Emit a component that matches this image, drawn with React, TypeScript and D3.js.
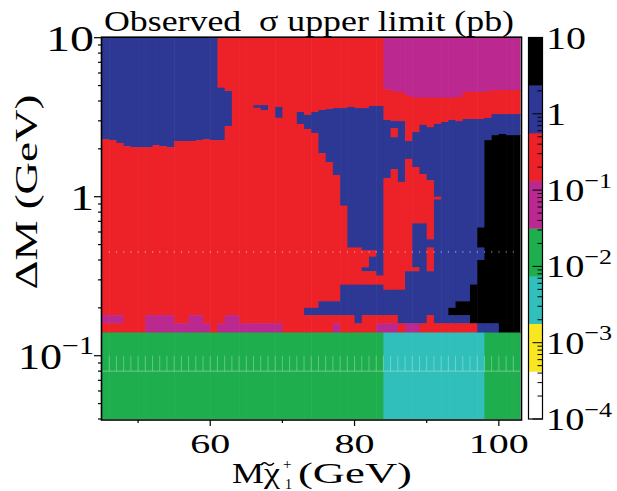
import React from 'react';
import * as d3 from 'd3';

const W = 617;
const H = 491;

// chargino mass bins (lower edges, GeV), each 1 GeV wide
const massBins = [45, 46, 47, 48, 49, 50, 51, 52, 53, 54, 55, 56, 57, 58, 59, 60, 61, 62, 63, 64, 65, 66, 67, 68, 69, 70, 71, 72, 73, 74, 75, 76, 77, 78, 79, 80, 81, 82, 83, 84, 85, 86, 87, 88, 89, 90, 91, 92, 93, 94, 95, 96, 97, 98, 99, 100, 101, 102];
const massWidth = 1;
const massDomain = [45, 103];
const dmDomain = [0.04, 10];

// limit levels: code -> representative sigma (pb)
const levelCodes = ['W', 'Y', 'C', 'G', 'M', 'R', 'B', 'K'];
const levelSigma = [0.0002, 0.0011, 0.004, 0.018, 0.075, 0.3, 1.2, 5];
const colorEdges = [0.000422, 0.00178, 0.0075, 0.0316, 0.1334, 0.562, 2.371];
const levelColors = ['#ffffff', '#f7e620', '#30bfba', '#1fae4d', '#bb2990', '#ed2228', '#2d3794', '#000000'];

// each column (one mass bin): level code followed by the lower Delta-M edge of that run, from top (10 GeV) down
const columns = [
  'B2.30 R0.18 M0.16 R0.14 G',
  'B2.27 R0.18 M0.16 R0.14 G',
  'B2.18 R0.18 M0.16 R0.14 G',
  'B2.08 R0.14 G',
  'B2.05 R0.14 G',
  'B2.05 R0.14 G',
  'B2.05 R0.18 M0.14 G',
  'B2.11 R0.18 M0.14 G',
  'B2.08 R0.18 M0.14 G',
  'B2.05 R0.18 M0.14 G',
  'B2.24 R0.16 M0.14 G',
  'B2.24 R0.16 M0.14 G',
  'B2.24 R0.18 M0.14 G',
  'B2.27 R0.18 M0.14 G',
  'B2.30 R0.16 M0.14 G',
  'B2.27 R0.14 G',
  'R4.85 B2.27 R0.16 M0.14 G',
  'R4.62 B2.78 R0.18 M0.14 G',
  'R0.18 M0.14 G',
  'R0.16 M0.14 G',
  'R0.16 M0.14 G',
  'R3.77 B3.63 R0.16 M0.14 G',
  'R3.77 B3.51 R0.16 M0.14 G',
  'R0.16 M0.14 G',
  'R3.67 B3.14 R0.16 M0.14 G',
  'R0.14 G',
  'R0.14 G',
  'R3.41 B2.87 R0.14 G',
  'R3.27 B2.67 R0.20 B0.18 R0.14 G',
  'R3.41 B2.52 R0.20 B0.18 R0.14 G',
  'R3.51 B1.88 R0.22 B0.18 R0.14 G',
  'R3.56 B1.65 R0.22 B0.18 R0.14 G',
  'R3.61 B1.37 R0.22 B0.18 R0.16 M0.14 G',
  'R3.61 B0.88 R0.28 B0.18 R0.14 G',
  'R3.67 B0.48 R0.28 B0.18 R0.14 G',
  'R3.61 B0.48 R0.28 B0.16 R0.14 G',
  'R3.61 B0.46 R0.36 B0.34 R0.28 B0.18 R0.14 G',
  'R3.72 B0.46 R0.42 B0.34 R0.28 B0.18 R0.14 G',
  'R3.72 B0.32 R0.28 B0.18 R0.16 M0.14 G',
  'M4.74 R3.04 B1.31 R0.26 B0.18 R0.16 M0.14 C',
  'M4.60 R2.99 B2.70 R2.37 B1.49 R0.26 B0.18 R0.16 M0.14 C',
  'M4.56 R2.99 B1.24 R0.26 B0.16 R0.14 C',
  'M4.30 R2.24 B1.73 R0.34 B0.16 M0.14 C',
  'M4.20 R2.55 B1.54 R0.68 B0.36 R0.34 B0.16 M0.14 C',
  'M4.20 R2.83 B1.39 R0.68 B0.16 R0.14 C',
  'M4.20 R2.74 B1.27 R0.54 B0.48 R0.34 B0.18 R0.14 C',
  'M4.20 R2.87 B1.00 R0.96 B0.16 R0.14 C',
  'M4.20 R2.95 B0.16 R0.14 C',
  'M4.20 R3.04 B0.20 K0.18 B0.16 R0.14 C',
  'M4.24 R2.99 B0.22 K0.18 B0.16 R0.14 C',
  'M4.56 R3.08 B0.22 K0.18 B0.16 R0.14 C',
  'M4.56 R3.08 B0.28 K0.16 R0.14 C',
  'M4.56 R3.08 B0.64 K0.48 B0.40 K0.16 B0.14 C',
  'M4.60 R3.13 B2.27 K0.16 B0.14 G',
  'M4.69 R3.31 B2.44 K0.16 B0.14 G',
  'M4.69 R3.31 B2.48 K0.14 G',
  'M4.69 R3.31 B2.44 K0.14 G',
  'M4.69 R3.31 B2.44 K0.14 G',
];

// faint guide marks seen in the original
const dottedGuideDM = 0.45;
const lowGuideDM = 0.08;
const lowGuideTopDM = 0.1;

const xTickValues = [50, 60, 70, 80, 90, 100];
const xTickLabels = ['', '60', '', '80', '', '100'];
const yTickLabelValues = [0.1, 1, 10];
const yTickLabels = ['10^-1', '1', '10'];
const cbTickLabelValues = [1e-4, 1e-3, 1e-2, 1e-1, 1, 10];
const cbTickLabels = ['10^-4', '10^-3', '10^-2', '10^-1', '1', '10'];

const title = 'Observed  \u03c3 upper limit (pb)';
const FONT = '"Liberation Serif", "Times New Roman", serif';

function Label({ x, y, text, size, anchor, len }: { x: number; y: number; text: string; size: number; anchor: string; len: number }) {
  const [base, exp] = text.split('^');
  return (
    <text x={x} y={y} fontSize={size} textAnchor={anchor} fontFamily={FONT} textLength={len} lengthAdjust="spacingAndGlyphs">
      {base}
      {exp !== undefined && (
        <tspan fontSize={size * 0.68} dy={-size * 0.42}>{exp.replace('-', '\u2212')}</tspan>
      )}
    </text>
  );
}

export default function App() {
  const x = d3.scaleLinear().domain(massDomain).range([102, 520.5]);
  const y = d3.scaleLog().domain(dmDomain).range([419, 37.7]);
  const color = d3.scaleThreshold<number, string>().domain(colorEdges).range(levelColors);
  const cb = d3.scaleLog().domain([1e-4, 10]).range([419, 37.5]);

  const cells = columns.flatMap((s, i) => {
    const m0 = massBins[i];
    let top = dmDomain[1];
    return s.split(' ').map((tok) => {
      const code = tok[0];
      const low = tok.length > 1 ? +tok.slice(1) : dmDomain[0];
      const c = { m0, top, low, sigma: levelSigma[levelCodes.indexOf(code)] };
      top = low;
      return c;
    });
  });

  const isMajor = (t: number) => Math.abs(Math.log10(t) - Math.round(Math.log10(t))) < 1e-6;
  const yTicks = y.ticks();
  const cbTicks = cb.ticks();
  const cbBandEdges = [1e-4, ...colorEdges, 10];

  const [x0, x1] = x.range();
  const [yb, yt] = y.range();

  return (
    <svg width={W} height={H} style={{ position: 'absolute', left: 0, top: 0, background: '#fff' }}>
      <defs>
        <clipPath id="plotclip">
          <rect x={x0} y={yt} width={x1 - x0} height={yb - yt} />
        </clipPath>
      </defs>
      <g clipPath="url(#plotclip)">
        {cells.map((c, i) => (
          <rect
            key={i}
            x={x(c.m0)}
            y={y(c.top)}
            width={x(c.m0 + massWidth) - x(c.m0) + 0.6}
            height={y(c.low) - y(c.top) + 0.6}
            fill={color(c.sigma)}
          />
        ))}
        {massBins.slice(1).map((m) => (
          <rect key={'d' + m} x={x(m) - 0.5} y={y(dottedGuideDM) - 1} width={1.2} height={2} fill="#fff" opacity={0.35} />
        ))}
        <line x1={x0} x2={x1} y1={y(lowGuideDM)} y2={y(lowGuideDM)} stroke="#fff" strokeOpacity={0.35} strokeWidth={1} />
        {massBins.slice(1).map((m) => (
          <line key={'t' + m} x1={x(m)} x2={x(m)} y1={y(lowGuideTopDM)} y2={y(lowGuideDM)} stroke="#fff" strokeOpacity={0.3} strokeWidth={1} />
        ))}
      </g>
      <rect x={x0 - 0.5} y={yt - 0.5} width={x1 - x0 + 1.5} height={yb - yt + 1.5} fill="none" stroke="#000" strokeWidth={1.6} />

      {/* y axis ticks */}
      {yTicks.map((t, i) => (
        <line key={'yt' + i} x1={x0 - (isMajor(t) ? 8 : 4)} x2={x0} y1={y(t)} y2={y(t)} stroke="#000" strokeWidth={1.2} />
      ))}
      {yTickLabelValues.map((v, i) => (
        <Label key={'yl' + i} x={94} y={y(v) + 13} text={yTickLabels[i]} size={36} anchor="end" len={yTickLabels[i].includes('^') ? 76 : yTickLabels[i].length * 24} />
      ))}

      {/* x axis ticks */}
      {xTickValues.map((t, i) => (
        <line key={'xt' + i} x1={x(t)} x2={x(t)} y1={yb + 1} y2={yb + (xTickLabels[i] ? 7 : 4)} stroke="#000" strokeWidth={1.2} />
      ))}
      {xTickValues.map((t, i) =>
        xTickLabels[i] ? (
          <text key={'xl' + i} x={x(t)} y={453} fontSize={28} textAnchor="middle" fontFamily={FONT} textLength={xTickLabels[i].length * 20} lengthAdjust="spacingAndGlyphs">
            {xTickLabels[i]}
          </text>
        ) : null
      )}

      {/* axis titles */}
      <text x={232} y={483} fontSize={30} fontFamily={FONT} textLength={48} lengthAdjust="spacingAndGlyphs">{'M\u03c7'}</text>
      <path d="M261,465 q3,-4 6,-1 t7,-1" fill="none" stroke="#000" strokeWidth={1.4} />
      <text x={283} y={469} fontSize={15} fontFamily={FONT}>+</text>
      <text x={285} y={489} fontSize={14} fontFamily={FONT}>1</text>
      <text x={298} y={483} fontSize={30} fontFamily={FONT} textLength={114} lengthAdjust="spacingAndGlyphs">(GeV)</text>

      <text transform="translate(37,192) rotate(-90)" x={0} y={0} fontSize={32} textAnchor="middle" fontFamily={FONT} textLength={195} lengthAdjust="spacingAndGlyphs">
        {'\u0394M (GeV)'}
      </text>

      {/* title */}
      <text x={104} y={31} fontSize={30} fontFamily={FONT} textLength={410} lengthAdjust="spacingAndGlyphs" style={{ whiteSpace: 'pre' }}>
        {title}
      </text>

      {/* colour bar */}
      {levelColors.map((c, i) => (
        <rect key={'cb' + i} x={528.5} y={cb(cbBandEdges[i + 1])} width={14} height={cb(cbBandEdges[i]) - cb(cbBandEdges[i + 1]) + 0.4} fill={c} />
      ))}
      <rect x={528.5} y={cb(10)} width={14} height={cb(1e-4) - cb(10)} fill="none" stroke="#000" strokeWidth={1.2} />
      {cbTicks.map((t, i) => (
        <line key={'cbt' + i} x1={542.5 - (isMajor(t) ? 10 : 5)} x2={542.5} y1={cb(t)} y2={cb(t)} stroke="#000" strokeWidth={1} />
      ))}
      {cbTickLabelValues.map((v, i) => (
        <Label key={'cbl' + i} x={546} y={cb(v) + 11} text={cbTickLabels[i]} size={32} anchor="start" len={cbTickLabels[i].includes('^') ? 66 : cbTickLabels[i].length * 20} />
      ))}
    </svg>
  );
}
